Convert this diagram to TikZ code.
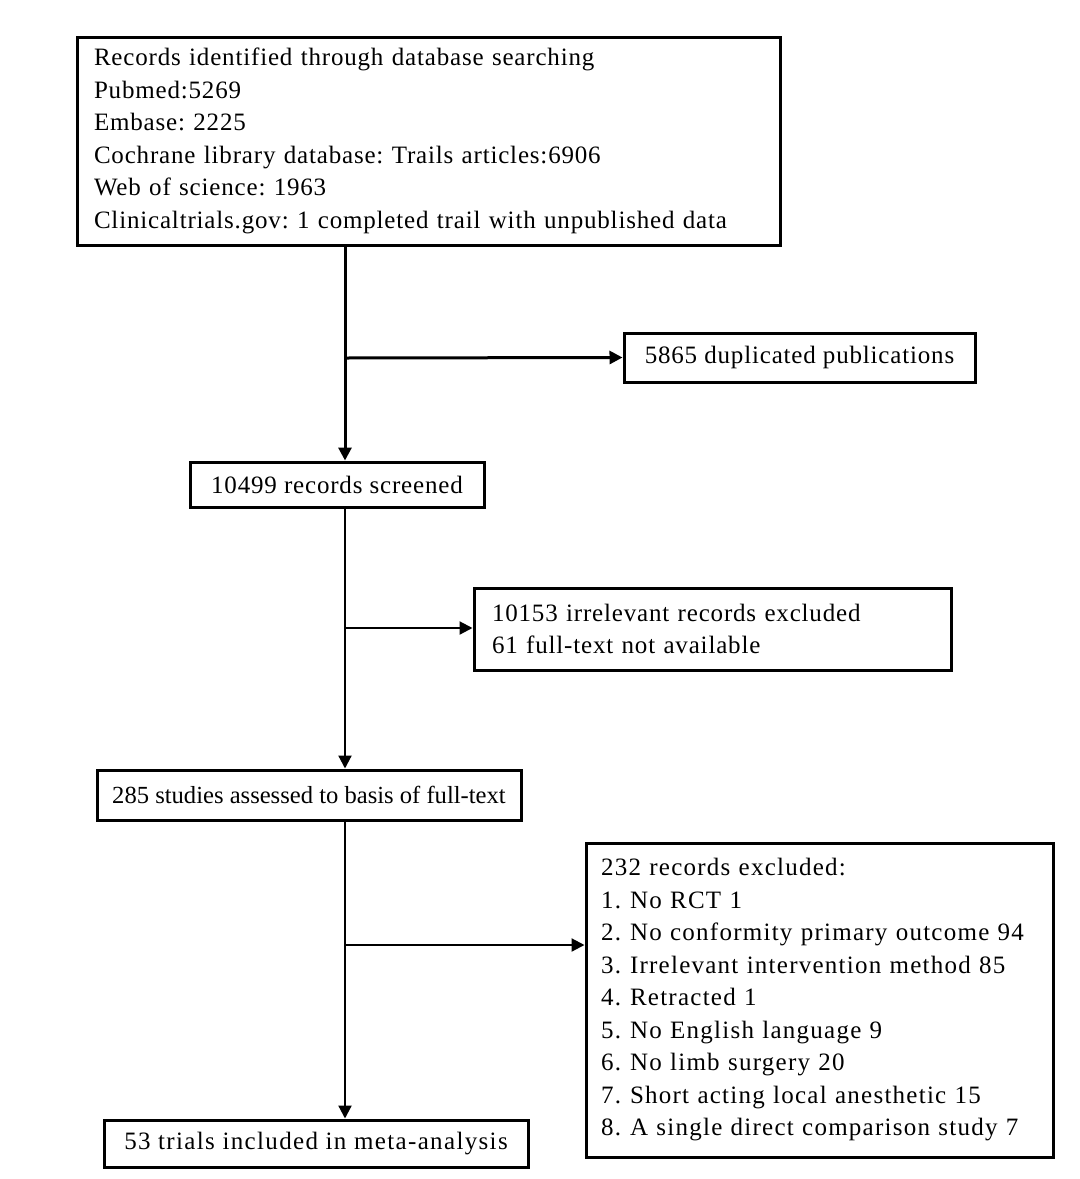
\documentclass[tikz,border=0pt]{standalone}
\usepackage{fontspec}
\setmainfont[LetterSpace=3.3]{Liberation Serif}
\frenchspacing
\usetikzlibrary{arrows.meta}
\begin{document}
\begin{tikzpicture}[x=0.5pt,y=-0.5pt,
  box/.style={draw, line width=1.5pt, inner ysep=0pt, font=\fontsize{12.5}{16.25}\selectfont},
  lbox/.style={box, align=left},
  cbox/.style={box, align=center},
  thickarrow/.style={line width=1.5pt, -{Triangle[length=6.5pt,width=6.5pt]}},
  thinarrow/.style={line width=1.1pt, -{Triangle[length=6.5pt,width=6.5pt]}}]
\useasboundingbox[fill=white] (0,0) rectangle (1080,1179);

\node[lbox, minimum width=351.5pt, minimum height=104pt, text width=334.5pt, inner xsep=8.5pt] (src) at (428.5,141)
 {Records identified through database searching\\
  Pubmed:5269\\
  Embase: 2225\\
  Cochrane library database: Trails articles:6906\\
  Web of science: 1963\\
  Clinicaltrials.gov: 1 completed trail with unpublished data};

\node[cbox, minimum width=175.5pt, minimum height=24.5pt] (dup) at (799.5,357.5) {5865 duplicated publications};

\node[cbox, minimum width=147pt, minimum height=22.5pt] (scr) at (337,484.5) {10499 records screened};

\node[lbox, minimum width=238.5pt, minimum height=41pt, text width=220.5pt, inner xsep=9pt] (ex1) at (712.5,629)
 {10153 irrelevant records excluded\\
  61 full-text not available};

\node[cbox, minimum width=212pt, minimum height=25pt, inner xsep=2pt,
  font=\fontsize{12.3}{16.25}\selectfont\addfontfeature{LetterSpace=0}] (full) at (309,795) {285 studies assessed to basis of full-text};

\node[lbox, minimum width=233.5pt, minimum height=157pt, text width=218.5pt, inner xsep=7.5pt,
  font=\fontsize{12.5}{16.25}\selectfont\addfontfeature{LetterSpace=5}] (ex2) at (819.5,1000)
 {232 records excluded:\\
  \makebox[14.5pt][l]{1.}No RCT 1\\
  \makebox[14.5pt][l]{2.}No conformity primary outcome 94\\
  \makebox[14.5pt][l]{3.}Irrelevant intervention method 85\\
  \makebox[14.5pt][l]{4.}Retracted 1\\
  \makebox[14.5pt][l]{5.}No English language 9\\
  \makebox[14.5pt][l]{6.}No limb surgery 20\\
  \makebox[14.5pt][l]{7.}Short acting local anesthetic 15\\
  \makebox[14.5pt][l]{8.}A single direct comparison study 7};

\node[cbox, minimum width=212pt, minimum height=23.5pt,
  font=\fontsize{12.5}{16.25}\selectfont\addfontfeature{LetterSpace=5.4}] (inc) at (316,1143.5) {53 trials included in meta-analysis};

\coordinate (j1) at (345,358);
\coordinate (j2) at (345,628);
\coordinate (j3) at (345,945);

\draw[thickarrow] (src.south -| j1) -- (scr.north -| j1);
\draw[thickarrow] (j1) -- (dup.west);
\draw[thinarrow] (scr.south -| j2) -- (full.north -| j2);
\draw[thinarrow] (j2) -- (ex1.west |- j2);
\draw[thinarrow] (full.south -| j3) -- (inc.north -| j3);
\draw[thinarrow] (j3) -- (ex2.west |- j3);
\end{tikzpicture}
\end{document}
